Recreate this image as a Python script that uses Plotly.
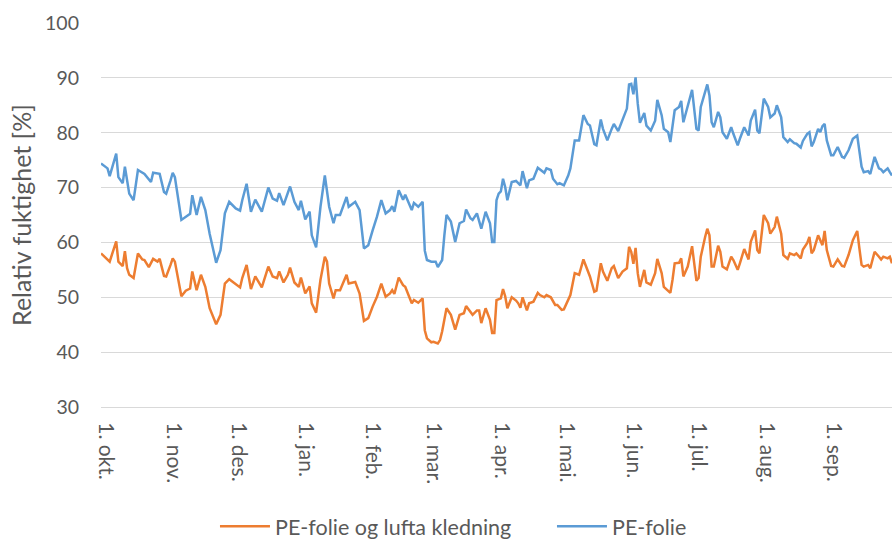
import datetime as dt
import plotly.graph_objects as go

start = dt.date(2014, 10, 1)

month_ticks = ["2014-10-01", "2014-11-01", "2014-12-01", "2015-01-01", "2015-02-01", "2015-03-01",
               "2015-04-01", "2015-05-01", "2015-06-01", "2015-07-01", "2015-08-01", "2015-09-01"]
month_labels = ["1. okt.", "1. nov.", "1. des.", "1. jan.", "1. feb.", "1. mar.",
                "1. apr.", "1. mai.", "1. jun.", "1. jul.", "1. aug.", "1. sep."]

# day offsets from 1. okt. and relative humidity (%)
blue_days = [0, 3, 4, 7, 8, 10, 11, 13, 15, 17, 20, 23, 24, 27, 29, 30, 32, 33, 34, 37, 41, 42, 44, 46, 48,
             50, 53, 55, 57, 59, 62, 64, 65, 67, 69, 71, 74, 75, 77, 79, 81, 82, 84, 87, 89, 91, 92, 94, 96,
             97, 99, 101, 103, 105, 107, 108, 110, 113, 114, 117, 119, 121, 123, 125, 127, 129, 131, 133,
             134, 135, 137, 139, 140, 143, 144, 146, 148, 149, 150, 152, 154, 155, 157, 158, 159, 161, 163,
             165, 167, 168, 170, 171, 173, 175, 177, 179, 180, 181, 182, 183, 184, 185, 186, 187, 189, 191,
             193, 194, 196, 197, 199, 201, 202, 204, 205, 207, 208, 210, 211, 213, 215, 216, 218, 220, 222,
             224, 225, 227, 228, 230, 231, 233, 235, 236, 238, 240, 242, 243, 244, 245, 246, 247, 248, 250,
             251, 253, 255, 256, 258, 259, 261, 262, 263, 264, 266, 267, 268, 270, 272, 274, 275, 276, 278,
             279, 280, 281, 282, 284, 285, 286, 288, 290, 291, 293, 294, 296, 298, 299, 301, 302, 303, 305,
             307, 308, 310, 311, 313, 314, 316, 317, 319, 320, 322, 323, 325, 326, 327, 328, 330, 331, 332,
             333, 334, 336, 337, 339, 341, 342, 344, 346, 348, 349, 350, 351, 353, 354, 356, 358, 359, 360,
             362, 363, 364]
blue_vals = [74.4, 73.5, 72.1, 76.2, 71.9, 70.8, 73.8, 68.9, 67.7, 73.2, 72.5, 71.0, 72.7, 72.5, 69.2, 68.9,
             71.3, 72.7, 71.9, 64.1, 65.2, 68.6, 65.0, 68.3, 65.9, 61.6, 56.3, 58.6, 65.3, 67.4, 66.2, 65.8,
             67.7, 70.7, 65.6, 67.8, 65.6, 67.1, 70.0, 68.0, 67.6, 69.0, 66.8, 70.2, 67.4, 65.9, 67.6, 64.2,
             65.6, 61.3, 59.1, 66.5, 72.2, 66.5, 63.5, 65.0, 65.0, 68.3, 66.5, 67.4, 65.9, 58.9, 59.5, 62.2,
             64.7, 67.7, 65.3, 65.9, 66.6, 65.6, 69.5, 67.8, 68.7, 65.9, 67.2, 66.5, 67.4, 58.5, 56.8, 56.5,
             56.5, 55.5, 56.8, 61.3, 65.0, 63.8, 60.1, 63.5, 63.9, 66.0, 64.4, 64.1, 65.3, 62.5, 65.6, 63.5,
             60.1, 60.1, 67.7, 68.9, 69.3, 71.6, 70.1, 67.7, 71.0, 71.2, 70.4, 73.0, 69.9, 71.3, 71.6, 73.6,
             73.3, 72.7, 73.5, 73.2, 71.6, 70.6, 70.8, 70.4, 72.2, 73.5, 78.6, 78.6, 83.2, 81.6, 81.3, 77.9,
             77.7, 82.4, 80.7, 78.6, 80.7, 81.6, 80.3, 82.5, 84.4, 88.8, 88.9, 87.0, 90.1, 85.3, 81.8, 83.6,
             81.3, 80.4, 82.2, 86.0, 83.2, 80.7, 80.1, 78.3, 81.2, 84.1, 84.7, 85.8, 81.9, 84.7, 87.8, 80.7,
             80.4, 84.7, 87.4, 88.8, 86.8, 81.9, 81.0, 83.8, 82.8, 80.1, 78.9, 81.0, 79.8, 77.7, 78.9, 81.0,
             79.5, 82.2, 84.2, 80.4, 79.9, 86.2, 84.7, 82.8, 83.5, 85.0, 82.8, 79.2, 78.3, 78.8, 78.1, 78.0,
             77.3, 78.5, 79.8, 80.1, 77.5, 78.3, 80.7, 80.1, 81.2, 81.6, 78.6, 75.9, 75.9, 77.4, 75.6, 75.4,
             76.8, 78.9, 79.5, 76.5, 73.8, 72.8, 73.0, 72.5, 75.6, 73.5, 73.3, 72.8, 73.5, 72.8, 72.2]

orange_days = [0, 3, 4, 7, 8, 10, 11, 12, 13, 15, 17, 19, 20, 22, 24, 26, 27, 29, 30, 32, 33, 34, 37, 39,
               41, 42, 44, 46, 48, 50, 53, 55, 57, 59, 61, 62, 64, 65, 67, 69, 71, 74, 75, 77, 79, 81, 82,
               84, 86, 87, 89, 91, 92, 94, 96, 97, 99, 101, 103, 104, 105, 107, 108, 110, 113, 114, 117,
               119, 121, 123, 125, 127, 129, 131, 133, 134, 135, 137, 139, 140, 143, 144, 146, 148, 149, 150,
               152, 153, 155, 156, 157, 159, 161, 163, 165, 167, 168, 170, 171, 173, 174, 175, 177, 179, 180,
               181, 182, 184, 185, 186, 187, 189, 191, 192, 193, 194, 196, 197, 199, 201, 202, 204, 205, 207,
               209, 210, 212, 213, 215, 216, 218, 220, 222, 224, 225, 227, 228, 230, 231, 233, 235, 236, 238,
               240, 242, 243, 244, 245, 246, 247, 248, 250, 251, 253, 255, 256, 258, 259, 260, 262, 263, 264,
               266, 267, 268, 270, 272, 274, 275, 276, 278, 279, 280, 281, 282, 284, 285, 286, 288, 290, 291,
               293, 294, 296, 298, 299, 301, 302, 303, 305, 307, 308, 310, 311, 313, 314, 316, 317, 319, 320,
               322, 323, 325, 326, 327, 328, 330, 331, 332, 333, 334, 336, 337, 339, 341, 342, 344, 346, 348,
               349, 350, 351, 353, 354, 356, 358, 359, 360, 362, 363, 364]
orange_vals = [58.0, 56.9, 56.5, 60.2, 56.5, 55.7, 58.4, 55.3, 54.1, 53.5, 58.0, 56.9, 56.8, 55.5, 57.0, 56.5,
               57.0, 53.9, 53.8, 55.9, 57.1, 56.5, 50.2, 51.2, 51.6, 54.7, 51.3, 54.1, 51.9, 48.0, 45.1, 46.8,
               52.5, 53.3, 52.7, 52.5, 51.8, 53.5, 55.9, 51.5, 53.8, 51.8, 53.2, 55.6, 53.8, 53.5, 54.7, 52.7,
               54.1, 55.4, 52.7, 51.9, 53.6, 50.7, 52.0, 48.9, 47.2, 53.2, 57.4, 56.5, 52.5, 49.8, 51.3, 51.3,
               54.1, 52.5, 52.8, 50.7, 45.7, 46.2, 48.3, 50.1, 52.5, 50.1, 50.7, 51.3, 50.6, 53.6, 52.2, 51.9,
               48.9, 49.5, 49.0, 49.8, 44.0, 42.5, 41.8, 41.9, 41.6, 42.2, 43.8, 48.0, 46.8, 44.1, 46.8, 47.1,
               48.4, 47.2, 46.8, 47.6, 47.6, 45.3, 48.0, 45.9, 43.5, 43.5, 49.5, 49.8, 51.5, 50.2, 48.0, 50.0,
               49.4, 48.9, 48.1, 50.0, 47.6, 48.9, 49.2, 50.8, 50.4, 50.0, 50.4, 50.0, 48.6, 48.6, 47.7, 47.8,
               49.4, 50.4, 54.4, 54.1, 56.9, 54.7, 53.8, 51.0, 51.2, 56.2, 54.7, 53.0, 55.3, 55.7, 53.5, 54.7,
               55.3, 59.2, 58.3, 56.1, 59.0, 54.4, 51.9, 55.0, 52.7, 52.3, 54.4, 57.0, 54.4, 51.9, 51.5, 50.8,
               53.2, 56.2, 56.3, 57.1, 53.8, 55.6, 59.3, 53.0, 53.5, 57.4, 61.0, 62.5, 61.3, 55.6, 55.6, 59.4,
               58.3, 55.6, 55.1, 57.4, 56.8, 55.0, 56.2, 58.8, 56.9, 60.1, 62.2, 58.6, 58.0, 65.0, 63.5, 61.6,
               62.8, 64.7, 61.6, 57.7, 57.0, 58.0, 57.7, 58.0, 57.1, 58.7, 59.9, 61.0, 58.0, 58.6, 61.3, 60.4,
               59.5, 62.1, 58.6, 55.7, 55.6, 56.9, 55.7, 55.6, 57.7, 60.4, 62.1, 58.9, 55.9, 55.6, 55.9, 55.3,
               58.3, 57.4, 56.9, 57.4, 57.1, 57.4, 56.2]

blue_x = [start + dt.timedelta(days=d) for d in blue_days]
orange_x = [start + dt.timedelta(days=d) for d in orange_days]

FONT = "Lato, 'Open Sans', sans-serif"
GREY = "#595959"

fig = go.Figure()
fig.add_trace(go.Scatter(x=orange_x, y=orange_vals, mode="lines", name="PE-folie og lufta kledning",
                         line=dict(color="#ED7D31", width=2.5)))
fig.add_trace(go.Scatter(x=blue_x, y=blue_vals, mode="lines", name="PE-folie",
                         line=dict(color="#5B9BD5", width=2.5)))

fig.update_layout(
    width=892, height=542,
    margin=dict(l=101, r=0, t=23, b=135, autoexpand=False),
    paper_bgcolor="white", plot_bgcolor="white",
    font=dict(family=FONT, size=21, color=GREY),
    showlegend=True,
    legend=dict(orientation="h", x=0.241, xanchor="left", xref="container",
                y=0.029, yanchor="middle", yref="container",
                font=dict(size=21.5, color=GREY), itemwidth=50, entrywidth=272, tracegroupgap=0),
    xaxis=dict(
        type="date",
        range=[start, start + dt.timedelta(days=364)],
        tickvals=month_ticks, ticktext=month_labels,
        tickangle=90, showgrid=False, showline=True, linecolor="#D9D9D9", linewidth=1,
        ticks="", ticklabelstandoff=10, ticklabelshift=5,
        tickfont=dict(size=21, color=GREY), zeroline=False,
    ),
    yaxis=dict(
        range=[30, 100], dtick=10, tick0=30,
        showgrid=True, gridcolor="#D9D9D9", gridwidth=1,
        showline=False, zeroline=False, ticks="",
        ticklabelstandoff=21,
        tickfont=dict(size=19.5, color=GREY),
        title=dict(text="Relativ fuktighet [%]", font=dict(size=25, color=GREY), standoff=6),
    ),
)

fig.write_html("out.html", config={"displayModeBar": False},
               post_script="document.body.style.margin='0';document.body.style.overflow='hidden';")
